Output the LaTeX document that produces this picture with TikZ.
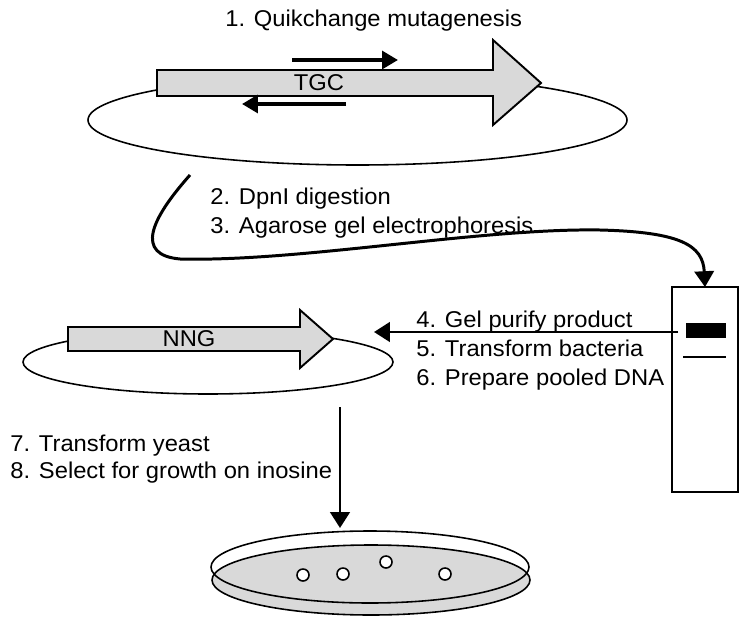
\documentclass[tikz,border=0pt]{standalone}
\usepackage{fontspec}
\setmainfont{Liberation Sans}[FakeStretch=1.04]
\usetikzlibrary{arrows.meta}
\definecolor{genegray}{gray}{0.85}

\begin{document}
\begin{tikzpicture}[x=0.02cm,y=-0.02cm,
    steptext/.style={anchor=base west,inner sep=0,font=\labeltext},
    genelabel/.style={inner sep=0,font=\labeltext},
    gene/.style={draw,line width=1.1pt,fill=genegray,line join=miter},
    loop/.style={draw,line width=0.9pt},
    gelbox/.style={draw,line width=1.1pt,inner sep=0,outer sep=0,minimum width=1.32cm,minimum height=4.1cm},
    flow/.style={line width=1.7pt,-{Triangle[length=9pt,width=11pt]}},
    primer/.style={line width=2.2pt,-{Triangle[length=9pt,width=10pt]}}]
    \providecommand{\labeltext}{\fontsize{13pt}{16pt}\selectfont}
    \useasboundingbox (0,0) rectangle (750,625);
    % template plasmid
    \draw[loop] (357.5,120) ellipse [x radius=269.5,y radius=45];
    \draw[gene] (157,70) -- (493,70) -- (493,40) -- (541,83) -- (493,125) -- (493,96) -- (157,96) -- cycle;
    \node[genelabel] (tgc) at (319,83) {TGC};
    \coordinate (fwdstart) at (292,60);
    \coordinate (fwdend) at (398,60);
    \coordinate (revstart) at (346,104);
    \coordinate (revend) at (242,104);
    \draw[primer] (fwdstart) -- (fwdend);
    \draw[primer] (revstart) -- (revend);
    \node[steptext] (step1) at (225,27) {1. Quikchange mutagenesis};
    % gel
    \node[gelbox] (gel) at (705,389.5) {};
    \fill (686,323) rectangle (726,338);
    \draw[line width=1.7pt] (683,357) -- (726,357);
    \coordinate (digest) at (190,175);
    \draw[flow] (digest) .. controls (150,220) and (135,255) .. (180,259)
        .. controls (300,262) and (480,228) .. (600,230)
        .. controls (680,232) and (703,245) .. (gel.north);
    \node[steptext] (step2) at (210,204) {2. DpnI digestion};
    \node[steptext] (step3) at (210,233) {3. Agarose gel electrophoresis};
    % library plasmid
    \draw[loop] (208,362) ellipse [x radius=185,y radius=32];
    \draw[gene] (68,327) -- (300,327) -- (300,310) -- (333,339) -- (300,368) -- (300,351) -- (68,351) -- cycle;
    \node[genelabel] (nng) at (189,339) {NNG};
    \coordinate (band) at (678,332);
    \coordinate (library) at (374,332);
    \draw[flow] (band) -- (library);
    \node[steptext] (step4) at (416,327) {4. Gel purify product};
    \node[steptext] (step5) at (416,356) {5. Transform bacteria};
    \node[steptext] (step6) at (416,385) {6. Prepare pooled DNA};
    % plate
    \coordinate (yeast) at (340,407);
    \coordinate (plate) at (340,528);
    \draw[flow] (yeast) -- (plate);
    \node[steptext] (step7) at (10,451) {7. Transform yeast};
    \node[steptext] (step8) at (10,478) {8. Select for growth on inosine};
    \draw[loop,fill=genegray] (371,580) ellipse [x radius=159,y radius=35];
    \draw[loop] (370,567) ellipse [x radius=159,y radius=36];
    \foreach \cx/\cy in {303/575,343/574,386/562,445/574}
        \draw[loop,fill=white] (\cx,\cy) circle [radius=6];
\end{tikzpicture}
\end{document}
